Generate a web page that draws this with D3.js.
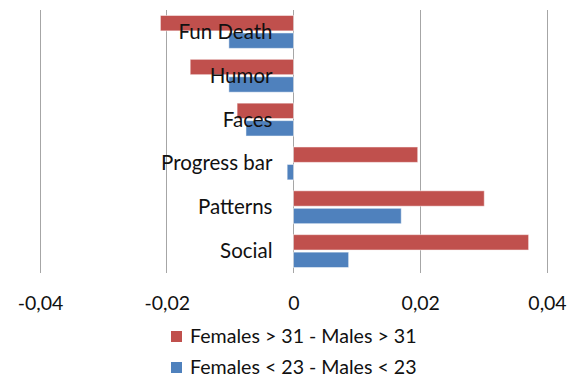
<!DOCTYPE html>
<html>
<head>
<meta charset="utf-8">
<script src="https://cdn.jsdelivr.net/npm/d3@7"></script>
<style>
  html, body { margin: 0; padding: 0; background: #ffffff; }
  svg { display: block; }
  text { font-family: Lato, "Open Sans", sans-serif; fill: #111; }
</style>
</head>
<body>
<svg id="chart" width="576" height="379"></svg>
<script>
// Differences between female and male preferences per design element
const categories = ["Fun Death", "Humor", "Faces", "Progress bar", "Patterns", "Social"];
const olderDiff = [-0.021, -0.0163, -0.0089, 0.0196, 0.0301, 0.0371];   // Females > 31 - Males > 31
const youngerDiff = [-0.0102, -0.0102, -0.0075, -0.001, 0.017, 0.0087]; // Females < 23 - Males < 23
const seriesNames = ["Females > 31 - Males > 31", "Females < 23 - Males < 23"];
const seriesColors = ["#C0504D", "#4F81BD"];
const tickValues = [-0.04, -0.02, 0, 0.02, 0.04];

const svg = d3.select("#chart");
const plot = { left: 40, right: 547, top: 10, bottom: 273 };

const x = d3.scaleLinear().domain([-0.04, 0.04]).range([plot.left, plot.right]);
const y = d3.scaleBand().domain(categories).range([plot.top, plot.bottom]).paddingInner(0.25).paddingOuter(0.125);
const ySub = d3.scaleBand().domain([0, 1]).range([0, y.bandwidth()]).paddingInner(0.12);

// vertical gridlines
svg.append("g")
  .selectAll("line")
  .data(tickValues)
  .join("line")
  .attr("x1", d => x(d)).attr("x2", d => x(d))
  .attr("y1", plot.top).attr("y2", plot.bottom)
  .attr("stroke", "#a6a6a6").attr("stroke-width", 1)
  .attr("shape-rendering", "crispEdges");

// tick labels with decimal comma
const fmt = d => d === 0 ? "0" : d3.format(".2f")(d).replace(".", ",").replace("−", "-");
const xAxis = d3.axisBottom(x).tickValues(tickValues).tickSize(0).tickPadding(0).tickFormat(fmt);
const axisG = svg.append("g").attr("transform", `translate(0,${plot.bottom})`).call(xAxis);
axisG.select(".domain").remove();
axisG.selectAll("text")
  .attr("dy", null)
  .attr("y", 37)
  .style("font-size", "19.5px")
  .style("font-family", "Lato, 'Open Sans', sans-serif")
  .attr("fill", "#111");

// bars
const series = [olderDiff, youngerDiff];
series.forEach((vals, si) => {
  svg.append("g")
    .selectAll("rect")
    .data(vals.map((v, i) => ({ cat: categories[i], v })))
    .join("rect")
    .attr("x", d => Math.min(x(0), x(d.v)))
    .attr("width", d => Math.abs(x(d.v) - x(0)))
    .attr("y", d => y(d.cat) + ySub(si))
    .attr("height", ySub.bandwidth())
    .attr("fill", seriesColors[si])
    .attr("stroke", "rgba(255,255,255,0.5)")
    .attr("stroke-width", 1);
});

// category labels, right-aligned left of the zero line
svg.append("g")
  .selectAll("text")
  .data(categories)
  .join("text")
  .attr("x", x(0) - 21)
  .attr("y", d => y(d) + y.bandwidth() / 2 + 7)
  .attr("text-anchor", "end")
  .style("font-size", "20.5px")
  .text(d => d);

// legend
const legend = svg.append("g");
seriesNames.forEach((name, i) => {
  const ly = 337 + i * 31;
  legend.append("rect")
    .attr("x", 171).attr("y", ly - 6).attr("width", 11).attr("height", 11)
    .attr("fill", seriesColors[i]);
  legend.append("text")
    .attr("x", 190).attr("y", ly + 6)
    .style("font-size", "19.6px")
    .text(name);
});
</script>
</body>
</html>
